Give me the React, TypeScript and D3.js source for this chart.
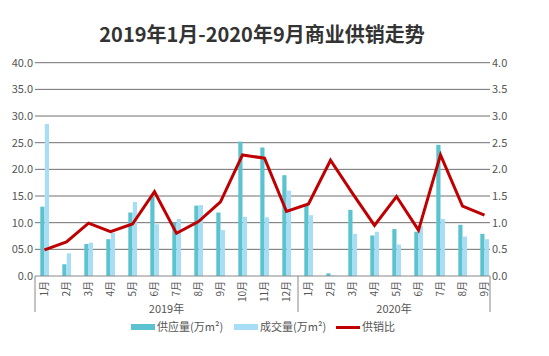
import React from "react";
import * as d3 from "d3";

const months = ["1月","2月","3月","4月","5月","6月","7月","8月","9月","10月","11月","12月","1月","2月","3月","4月","5月","6月","7月","8月","9月"];
const years = ["2019年", "2020年"];
const supply = [13.0, 2.2, 6.0, 6.9, 11.9, 14.9, 10.0, 13.2, 11.9, 25.2, 24.1, 18.9, 13.5, 0.5, 12.4, 7.6, 8.8, 8.3, 24.6, 9.6, 7.9];
const deal = [28.5, 4.25, 6.25, 8.1, 13.9, 9.7, 10.7, 13.3, 8.6, 11.1, 11.0, 16.0, 11.4, 0.1, 7.9, 8.3, 5.9, 9.4, 10.7, 7.4, 6.9];
const ratio = [0.49, 0.64, 0.99, 0.83, 0.975, 1.58, 0.8, 1.02, 1.39, 2.27, 2.21, 1.21, 1.35, 2.17, 1.55, 0.95, 1.49, 0.86, 2.27, 1.31, 1.14];
const leftTicks = ["0.0","05.0","10.0","15.0","20.0","25.0","30.0","35.0","40.0"];
const rightTicks = ["0.0","0.5","1.0","1.5","2.0","2.5","3.0","3.5","4.0"];
const legendLabels = ["供应量(万m²)", "成交量(万m²)", "供销比"];

const W = 549, H = 356;
const axL = 35, axR = 490, y0 = 276, yTop = 62.7;
const C_SUP = "#5BC3CF", C_DEAL = "#A8DDF6", C_LINE = "#C00000";
const FONT = "'Noto Sans CJK SC', 'Noto Sans', sans-serif";

export default function App() {
  const x = d3.scaleBand<number>().domain(d3.range(months.length)).range([33.5, 495.5]).padding(0);
  const yL = d3.scaleLinear().domain([0, 40]).range([y0, yTop]);
  const yR = d3.scaleLinear().domain([0, 4]).range([y0, yTop]);
  const bw = 4.2;
  const cx = (i: number) => (x(i) as number) + x.bandwidth() / 2;
  const line = d3.line<number>().x((_, i) => cx(i)).y((d) => yR(d));
  const sepX = ((x(11) as number) + x.bandwidth() + (x(12) as number)) / 2 + 0.5;

  return (
    <svg width={W} height={H} style={{ position: "absolute", left: 0, top: 0, background: "#fff" }} fontFamily={FONT}>
      <rect width={W} height={H} fill="#fff" />
      <text x={262} y={42} textAnchor="middle" fontSize={20} fontWeight="bold" fill="#333">
        2019年1月-2020年9月商业供销走势
      </text>
      {leftTicks.map((t, i) => (
        <g key={"g" + i}>
          {i > 0 && <line x1={axL} x2={axR} y1={yL(i * 5)} y2={yL(i * 5)} stroke="#707070" strokeWidth={1} />}
          <text x={33} y={yL(i * 5) + 4} textAnchor="end" fontSize={11} fill="#555">{t}</text>
          <text x={492} y={yR(i * 0.5) + 4} textAnchor="start" fontSize={11} fill="#555">{rightTicks[i]}</text>
        </g>
      ))}
      {supply.map((v, i) => (
        <rect key={"s" + i} x={cx(i) - bw} y={yL(v)} width={bw} height={y0 - yL(v)} fill={C_SUP} />
      ))}
      {deal.map((v, i) => (
        <rect key={"d" + i} x={cx(i) + 0.3} y={yL(v)} width={bw} height={y0 - yL(v)} fill={C_DEAL} />
      ))}
      <path d={line(ratio) as string} fill="none" stroke={C_LINE} strokeWidth={3} strokeLinejoin="miter" />
      <line x1={axL} x2={axR} y1={y0} y2={y0} stroke="#888" strokeWidth={1} />
      <line x1={axL} x2={axL} y1={y0} y2={312} stroke="#888" strokeWidth={1} />
      <line x1={axR} x2={axR} y1={y0} y2={312} stroke="#888" strokeWidth={1} />
      <line x1={sepX} x2={sepX} y1={y0} y2={312} stroke="#888" strokeWidth={1} />
      {months.map((m, i) => (
        <text key={"m" + i} transform={`translate(${cx(i) + 3.5},281) rotate(-90)`} textAnchor="end" fontSize={10} fill="#555">{m}</text>
      ))}
      <text x={(axL + sepX) / 2} y={313} textAnchor="middle" fontSize={11} fill="#555">{years[0]}</text>
      <text x={(sepX + axR) / 2} y={313} textAnchor="middle" fontSize={11} fill="#555">{years[1]}</text>
      <g fontSize={11} fill="#555">
        <rect x={131} y={324} width={24} height={6} fill={C_SUP} />
        <text x={157} y={331}>{legendLabels[0]}</text>
        <rect x={234} y={324} width={24} height={6} fill={C_DEAL} />
        <text x={260} y={331}>{legendLabels[1]}</text>
        <rect x={336} y={326} width={24} height={3} fill={C_LINE} />
        <text x={362} y={331}>{legendLabels[2]}</text>
      </g>
    </svg>
  );
}
